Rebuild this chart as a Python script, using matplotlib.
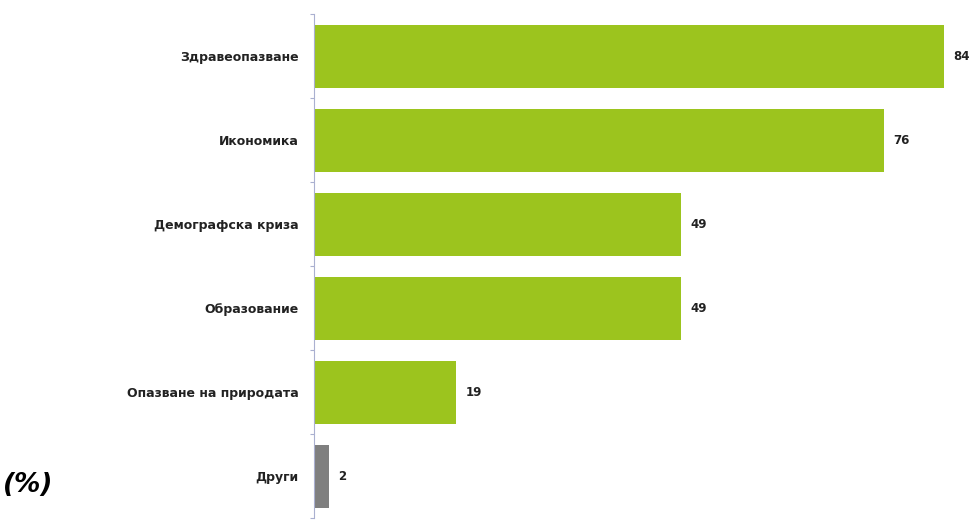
import matplotlib
matplotlib.use('Agg')
import matplotlib.pyplot as plt
import numpy as np

categories = ["Здравеопазване", "Икономика", "Демографска криза",
              "Образование", "Опазване на природата", "Други"]
values = [84, 76, 49, 49, 19, 2]
colors = ["#9CC41E"] * 5 + ["#7F7F7F"]

fig = plt.figure(figsize=(9.76, 5.27), dpi=100)
ax = fig.add_axes([0.3217, 0.017, 0.6783, 0.9563])

y = np.arange(len(categories))
ax.barh(y, values, height=0.75, color=colors)
ax.set_ylim(len(categories) - 0.5, -0.5)
ax.set_xlim(0, 88.3)

for yi, v in zip(y, values):
    ax.text(v + 1.2, yi, str(v), va='center', ha='left',
            fontsize=8.5, fontweight='bold', color='#222222', clip_on=False)

ax.set_yticks(y)
ax.set_yticklabels(categories, fontsize=9, fontweight='bold', color='#222222')
ax.tick_params(axis='y', which='major', length=0, pad=11)
ax.set_yticks(np.arange(-0.5, len(categories)), minor=True)
ax.tick_params(axis='y', which='minor', length=3, color='#aab0d0', width=0.8)
ax.set_xticks([])

for s in ['top', 'right', 'bottom']:
    ax.spines[s].set_visible(False)
ax.spines['left'].set_color('#aab0d0')
ax.spines['left'].set_linewidth(0.8)

fig.text(0.003, 0.08, "(%)", fontsize=19, fontweight='bold', style='italic',
         va='center', ha='left')

fig.savefig("out.png", dpi=100)
plt.close(fig)
